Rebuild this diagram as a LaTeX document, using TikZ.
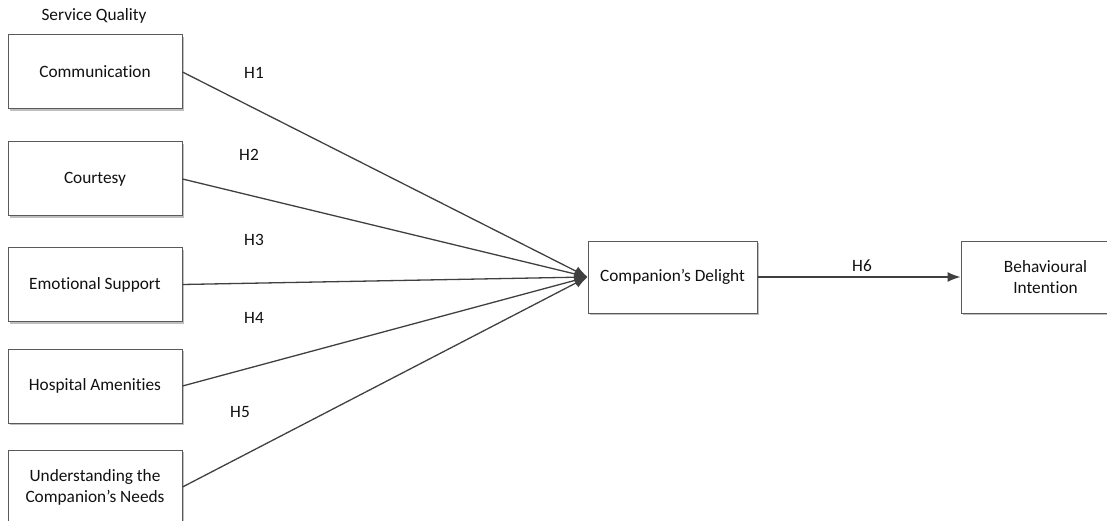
\documentclass[tikz,border=0pt]{standalone}
\usepackage{fontspec}
\setmainfont{Carlito}[Ligatures={NoCommon}]
\usetikzlibrary{arrows.meta,shadows}
\definecolor{linec}{HTML}{404040}
\definecolor{boxc}{HTML}{5A5A5A}
\definecolor{txtc}{HTML}{111111}
\tikzset{
  box/.style={draw=boxc, line width=1pt, fill=white, align=center, text=txtc,
    font=\fontsize{17.3}{21}\selectfont, inner sep=2pt,
    drop shadow={shadow xshift=2pt, shadow yshift=-2pt, fill=black!25, opacity=1}},
  lbox/.style={box, minimum width=174pt, minimum height=74pt},
  rbox/.style={box, minimum width=169pt, minimum height=72pt},
  conn/.style={draw=linec, line width=1.3pt, -{Latex[length=13pt,width=10pt]}},
  hlab/.style={text=txtc, font=\fontsize{17.3}{21}\selectfont, inner sep=0pt}
}
\begin{document}
\begin{tikzpicture}[x=1pt,y=-1pt]
\useasboundingbox (0,0) rectangle (1107,521);
\clip (0,0) rectangle (1107,521);
\node[hlab] (sq) at (94,16) {Service Quality};
\node[lbox] (c1) at (95,72) {Communication};
\node[lbox] (c2) at (95,179) {Courtesy};
\node[lbox] (c3) at (95,284.5) {Emotional Support};
\node[lbox] (c4) at (95,386) {Hospital Amenities};
\node[lbox] (c5) at (95,487) {Understanding the\\Companion’s Needs};
\node[rbox] (cd) at (672.5,277) {Companion’s Delight};
\node[rbox] (bi) at (1045.5,277) {Behavioural\\Intention};
\draw[conn] (c1.east) -- (cd.west);
\draw[conn] (c2.east) -- (cd.west);
\draw[conn] (c3.east) -- (cd.west);
\draw[conn] (c4.east) -- (cd.west);
\draw[conn] (c5.east) -- (cd.west);
\draw[conn] (cd.east) -- (bi.west);
\node[hlab] (h1) at (254,73) {H1};
\node[hlab] (h2) at (249,155) {H2};
\node[hlab] (h3) at (254,240) {H3};
\node[hlab] (h4) at (254,318) {H4};
\node[hlab] (h5) at (240,412) {H5};
\node[hlab] (h6) at (862,266) {H6};
\end{tikzpicture}
\end{document}
